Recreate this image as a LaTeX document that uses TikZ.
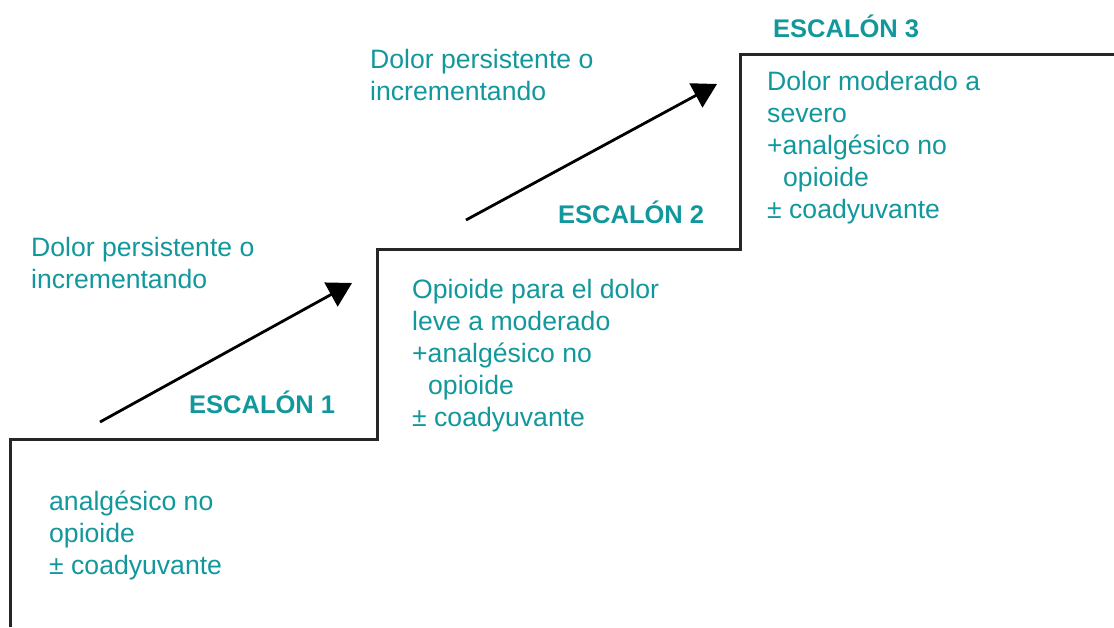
\documentclass[tikz,border=0pt]{standalone}
\usepackage{fontspec}
\setmainfont{Liberation Sans}
\usepackage{tikz}
\usetikzlibrary{arrows.meta,positioning}
\definecolor{verdeazul}{RGB}{18,152,156}

\begin{document}
\begin{tikzpicture}[x=1pt,y=-1pt,
  texto/.style={anchor=base west,inner sep=0pt,align=left,text=verdeazul,font=\fontsize{26.6}{31.8}\selectfont},
  escalon/.style={texto,font=\fontsize{25.5}{31.8}\selectfont\bfseries},
  flecha/.style={line width=2.8pt,-{Triangle[length=24pt,width=27pt]}}]
\useasboundingbox (0,0) rectangle (1114,627);
% escalera
\coordinate (p0) at (10,627);
\coordinate (p1) at (10,439);
\coordinate (p2) at (377,439);
\coordinate (p3) at (377,249);
\coordinate (p4) at (740,249);
\coordinate (p5) at (740,54);
\coordinate (p6) at (1114,54);
\draw [line width=3pt,black!85] (p0) -- (p1) -- (p2) -- (p3) -- (p4) -- (p5) -- (p6);
% flechas
\coordinate (a1) at (100,422);
\coordinate (b1) at (352,283);
\coordinate (a2) at (466,220);
\coordinate (b2) at (717,84);
\draw [flecha] (a1) -- (b1);
\draw [flecha] (a2) -- (b2);
% textos (base = ultima linea)
\node (dolor1) at (31,288) [texto] {Dolor persistente o\\incrementando};
\node (esc1) at (189,413) [escalon] {ESCALÓN 1};
\node (trat1) at (49,574) [texto] {analgésico no\\opioide\\± coadyuvante};
\node (dolor2) at (370,100) [texto] {Dolor persistente o\\incrementando};
\node (esc2) at (558,223) [escalon] {ESCALÓN 2};
\node (trat2) at (412,426) [texto] {Opioide para el dolor\\leve a moderado\\+analgésico no\\\hspace*{16pt}opioide\\± coadyuvante};
\node (esc3) at (773,37) [escalon] {ESCALÓN 3};
\node (trat3) at (767,218) [texto] {Dolor moderado a\\severo\\+analgésico no\\\hspace*{16pt}opioide\\± coadyuvante};
\end{tikzpicture}
\end{document}
